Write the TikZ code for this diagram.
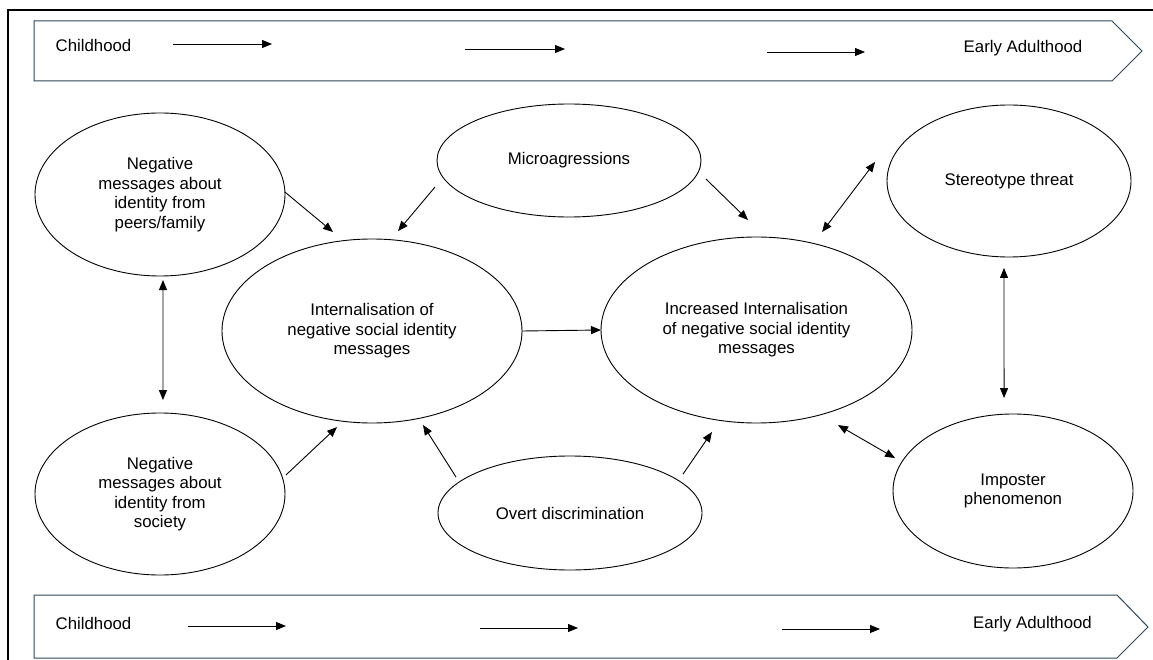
\documentclass[tikz,border=0pt]{standalone}
\usepackage{fontspec}
\setmainfont{Liberation Sans}
\usetikzlibrary{shapes.geometric,arrows.meta,calc}
\definecolor{bandline}{HTML}{2F4858}

\begin{document}
\begin{tikzpicture}[x=1pt,y=-1pt,
  txt/.style={font=\fontsize{16.8}{19.5}\selectfont, inner sep=0pt, outer sep=0pt},
  bubble/.style={txt, draw, ellipse, line width=0.9pt, align=center},
  tip/.style={-{Triangle[length=10pt,width=8pt]}},
  arr/.style={line width=0.9pt, tip},
  darr/.style={line width=0.9pt, {Triangle[length=10pt,width=8pt]}-{Triangle[length=10pt,width=8pt]}},
  band/.style={draw=bandline, line width=1pt}
]
\useasboundingbox (0,0) rectangle (1153,660);
\fill[white] (0,0) rectangle (1153,660);

% outer frame
\draw[line width=1.3pt] (8,660) -- (8,10) -- (1153,10);

% timeline bands
\draw[band] (34,21) -- (1112,21) -- (1142,51) -- (1112,81) -- (34,81) -- cycle;
\draw[band] (34,595) -- (1117,595) -- (1148,627) -- (1117,658) -- (34,658) -- cycle;

\node[txt] (childT) at (93.5,45) {Childhood};
\node[txt] (adultT) at (1023,48) {Early Adulthood};
\node[txt] (childB) at (93.5,623) {Childhood};
\node[txt] (adultB) at (1032.5,624) {Early Adulthood};

\coordinate (t1a) at (173,44);  \coordinate (t1b) at (272,44);
\coordinate (t2a) at (465,49);  \coordinate (t2b) at (565,49);
\coordinate (t3a) at (767,52);  \coordinate (t3b) at (865,52);
\coordinate (b1a) at (188,626); \coordinate (b1b) at (286,626);
\coordinate (b2a) at (480,628); \coordinate (b2b) at (578,628);
\coordinate (b3a) at (782,629); \coordinate (b3b) at (880,629);
\foreach \s in {t1,t2,t3,b1,b2,b3}
  \draw[arr] (\s a) -- (\s b);

% concepts
\node[bubble, minimum width=250pt, minimum height=163pt] (peers) at (160,194.5)
  {Negative\\messages about\\identity from\\peers/family};
\node[bubble, minimum width=250pt, minimum height=162pt] (society) at (160,494)
  {Negative\\messages about\\identity from\\society};
\node[bubble, minimum width=300pt, minimum height=184pt] (intern) at (372,331)
  {Internalisation of\\negative social identity\\messages};
\node[bubble, minimum width=311pt, minimum height=186pt] (incr) at (756.5,330)
  {Increased Internalisation\\of negative social identity\\messages};
\node[bubble, minimum width=264pt, minimum height=113pt] (micro) at (569,160.5)
  {Microagressions};
\node[bubble, minimum width=264pt, minimum height=114pt] (overt) at (570,513)
  {Overt discrimination};
\node[bubble, minimum width=244pt, minimum height=152pt] (stereo) at (1009,181)
  {Stereotype threat};
\node[bubble, minimum width=240pt, minimum height=154pt] (impost) at (1013,491)
  {Imposter\\phenomenon};

% influences
\draw[arr] ($(peers)+(1.1:125pt)$) -- ($(intern)+(111.5:106.4pt)$);
\draw[arr] ($(micro)+(-168.8:136.6pt)$) -- ($(intern)+(75.4:103.3pt)$);
\draw[arr] ($(micro)+(-7.7:138.2pt)$) -- ($(incr)+(94.4:110.3pt)$);
\draw[darr] ($(stereo)+(171.9:135.3pt)$) -- ($(incr)+(56.2:117.9pt)$);
\draw[darr] ($(stereo)+(-93.3:87.1pt)$) -- ($(impost)+(95.5:93.4pt)$);
\draw[darr] ($(peers)+(-88:85.6pt)$) -- ($(society)+(88.2:94pt)$);
\draw[arr] (intern.east) -- (incr.west);
\draw[arr] ($(society)+(8.6:127.4pt)$) -- ($(intern)+(-110:102.2pt)$);
\draw[arr] ($(overt)+(162.5:119.5pt)$) -- ($(intern)+(-61.5:106.9pt)$);
\draw[arr] ($(overt)+(19:119.5pt)$) -- ($(incr)+(-113.6:111.3pt)$);
\draw[darr] ($(incr)+(-49.4:125.2pt)$) -- ($(impost)+(164.4:122.5pt)$);
\end{tikzpicture}
\end{document}
